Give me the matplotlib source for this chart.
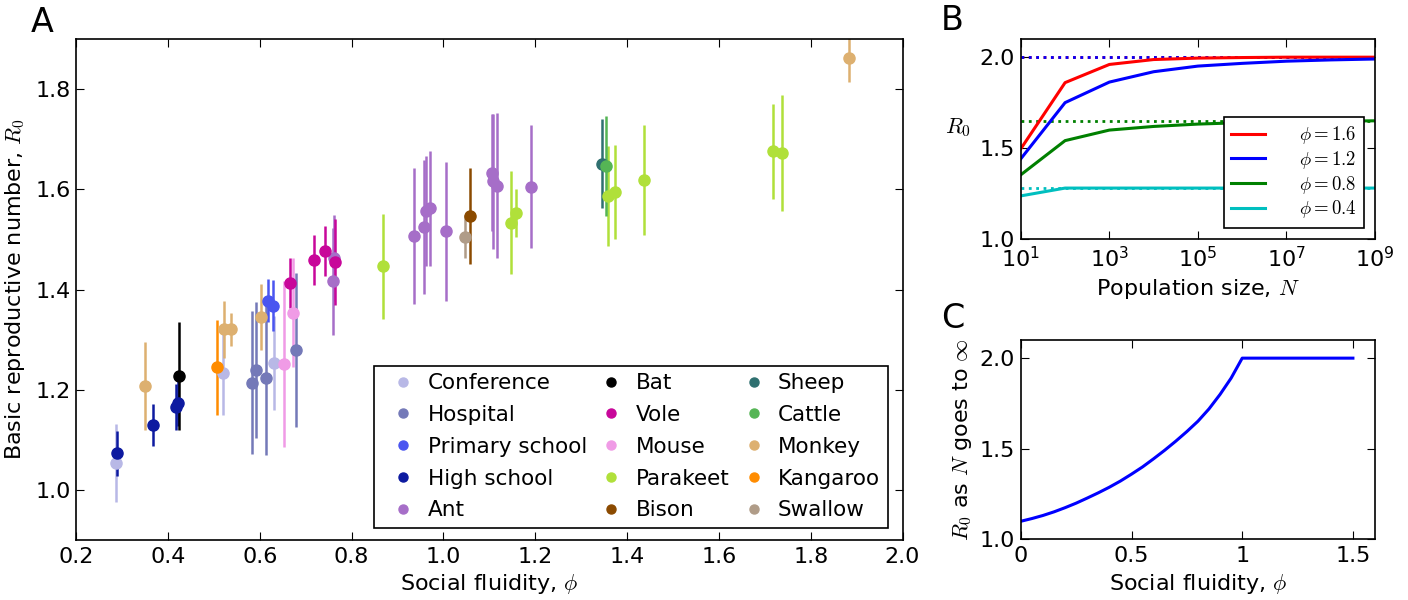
import numpy as np
import matplotlib
matplotlib.use('Agg')
import matplotlib.pyplot as plt
from matplotlib.lines import Line2D

# panel A data: one entry per point
groups = ['Conference', 'Hospital', 'Primary school', 'High school', 'Ant',
          'Bat', 'Vole', 'Mouse', 'Parakeet', 'Bison',
          'Sheep', 'Cattle', 'Monkey', 'Kangaroo', 'Swallow']
colors = ['#b8b8e6', '#7479b8', '#4a55f0', '#0d1aa0', '#a66ec8',
          '#000000', '#c8079a', '#f09be6', '#b0e03a', '#8b4a00',
          '#2f7070', '#55b555', '#ddb070', '#ff8c00', '#b09c88']

point_group = ['Conference', 'Conference', 'Conference',
               'Hospital', 'Hospital', 'Hospital', 'Hospital',
               'Primary school', 'Primary school',
               'High school', 'High school', 'High school', 'High school',
               'Ant', 'Ant', 'Ant', 'Ant', 'Ant', 'Ant', 'Ant', 'Ant', 'Ant', 'Ant', 'Ant',
               'Bat',
               'Vole', 'Vole', 'Vole', 'Vole',
               'Mouse', 'Mouse',
               'Parakeet', 'Parakeet', 'Parakeet', 'Parakeet', 'Parakeet', 'Parakeet',
               'Parakeet', 'Parakeet',
               'Bison', 'Sheep', 'Cattle',
               'Monkey', 'Monkey', 'Monkey', 'Monkey', 'Monkey',
               'Kangaroo', 'Swallow']
phi = [0.287, 0.521, 0.631,
       0.583, 0.591, 0.614, 0.680,
       0.619, 0.629,
       0.290, 0.367, 0.418, 0.421,
       0.759, 0.762, 0.936, 0.957, 0.962, 0.971, 1.006, 1.106, 1.108, 1.116, 1.190,
       0.425,
       0.666, 0.7185, 0.742, 0.765,
       0.6525, 0.6735,
       0.868, 1.148, 1.158, 1.358, 1.374, 1.437, 1.717, 1.737,
       1.058, 1.345, 1.355,
       0.350, 0.522, 0.538, 0.602, 1.883,
       0.506, 1.0475]
r0 = [1.053, 1.234, 1.254,
      1.214, 1.239, 1.224, 1.279,
      1.378, 1.368,
      1.073, 1.129, 1.166, 1.174,
      1.416, 1.463, 1.507, 1.525, 1.557, 1.562, 1.516, 1.633, 1.616, 1.607, 1.605,
      1.228,
      1.413, 1.459, 1.477, 1.455,
      1.251, 1.354,
      1.446, 1.533, 1.553, 1.587, 1.594, 1.619, 1.676, 1.672,
      1.546, 1.651, 1.647,
      1.208, 1.321, 1.321, 1.345, 1.862,
      1.245, 1.505]
r0_err = [0.078, 0.084, 0.094,
          0.143, 0.136, 0.155, 0.153,
          0.042, 0.050,
          0.045, 0.042, 0.046, 0.046,
          0.107, 0.085, 0.135, 0.133, 0.110, 0.115, 0.138, 0.117, 0.135, 0.145, 0.123,
          0.108,
          0.050, 0.050, 0.050, 0.085,
          0.165, 0.108,
          0.105, 0.103, 0.048, 0.100, 0.094, 0.110, 0.095, 0.116,
          0.096, 0.089, 0.100,
          0.088, 0.057, 0.033, 0.065, 0.048,
          0.095, 0.043]

# panel B data
pop_size = [1e1, 1e2, 1e3, 1e4, 1e5, 1e6, 1e7, 1e8, 1e9]
r0_phi16 = [1.496, 1.86, 1.96, 1.987, 1.995, 1.998, 2.0, 2.0, 2.0]
r0_phi12 = [1.441, 1.75, 1.863, 1.92, 1.951, 1.966, 1.978, 1.985, 1.99]
r0_phi08 = [1.353, 1.541, 1.599, 1.619, 1.632, 1.64, 1.645, 1.648, 1.65]
r0_phi04 = [1.237, 1.28, 1.28, 1.28, 1.28, 1.28, 1.28, 1.28, 1.28]
b_labels = ['$\\phi=1.6$', '$\\phi=1.2$', '$\\phi=0.8$', '$\\phi=0.4$']
b_limits = [2.0, 2.0, 1.65, 1.28]
b_colors = ['#ff0000', '#0000ff', '#008000', '#00bfbf']

# panel C data
phi_c = [0, 0.05, 0.1, 0.15, 0.2, 0.25, 0.3, 0.35, 0.4, 0.45, 0.5,
         0.55, 0.6, 0.65, 0.7, 0.75, 0.8, 0.85, 0.9, 0.95, 1.0, 1.5]
r0_inf = [1.10, 1.115, 1.132, 1.152, 1.175, 1.2, 1.228, 1.257, 1.288, 1.322, 1.36,
          1.4, 1.445, 1.492, 1.542, 1.595, 1.652, 1.72, 1.80, 1.89, 2.0, 2.0]

plt.rcParams['font.family'] = ['DejaVu Sans']
plt.rcParams['mathtext.fontset'] = 'cm'
plt.rcParams['font.size'] = 16
plt.rcParams['xtick.direction'] = 'in'
plt.rcParams['ytick.direction'] = 'in'
plt.rcParams['xtick.top'] = True
plt.rcParams['ytick.right'] = True
plt.rcParams['xtick.major.size'] = 6
plt.rcParams['ytick.major.size'] = 6
plt.rcParams['xtick.major.pad'] = 5
plt.rcParams['ytick.major.pad'] = 4
plt.rcParams['axes.linewidth'] = 1.2

fig = plt.figure(figsize=(14.08, 6.0), dpi=100)
axA = fig.add_axes([0.054, 0.1, 0.587, 0.835])
axB = fig.add_axes([0.725, 0.6017, 0.2516, 0.3333])
axC = fig.add_axes([0.725, 0.101, 0.2516, 0.3323])

# ---- panel A
gcol = dict(zip(groups, colors))
for g in groups:
    idx = [i for i, pg in enumerate(point_group) if pg == g]
    x = [phi[i] for i in idx]
    y = [r0[i] for i in idx]
    e = [r0_err[i] for i in idx]
    axA.errorbar(x, y, yerr=e, fmt='o', color=gcol[g], ms=8, mec=gcol[g],
                 elinewidth=1.8, capsize=0)
handles = [Line2D([], [], ls='none', marker='o', ms=6.5, color=c, mec=c) for c in colors]
legA = axA.legend(handles, groups, loc='lower right', bbox_to_anchor=(0.982, 0.024),
                  ncol=3, numpoints=1, fontsize=15.5,
                  fancybox=False, edgecolor='black', framealpha=1, borderaxespad=0,
                  handletextpad=0.1, columnspacing=0.11, labelspacing=0.55,
                  handlelength=2.05, borderpad=0.35)
legA.get_frame().set_linewidth(1.2)
axA.set_xlim(0.2, 2.0)
axA.set_ylim(0.9, 1.9)
axA.set_xticks(np.arange(0.2, 2.01, 0.2))
axA.set_yticks([1.0, 1.2, 1.4, 1.6, 1.8])
axA.set_xlabel('Social fluidity, $\\phi$', labelpad=4)
axA.set_ylabel('Basic reproductive number, $R_0$', labelpad=6)
fig.text(0.03, 0.962, 'A', fontsize=24, ha='center', va='center')

# ---- panel B
for lim, c in zip(b_limits, b_colors):
    axB.plot(pop_size, [lim] * len(pop_size), ls=':', color=c, lw=2)
for ys, lab, c in zip([r0_phi16, r0_phi12, r0_phi08, r0_phi04], b_labels, b_colors):
    axB.plot(pop_size, ys, color=c, lw=2.2, label=lab)
axB.set_xscale('log')
axB.set_xlim(1e1, 1e9)
axB.set_ylim(1.0, 2.1)
axB.set_xticks([1e1, 1e3, 1e5, 1e7, 1e9])
axB.minorticks_off()
axB.set_yticks([1.0, 1.5, 2.0])
axB.set_xlabel('Population size, $N$', labelpad=4)
axB.set_ylabel('$R_0$', rotation=0, labelpad=16)
legB = axB.legend(loc='lower right', fontsize=13.5, fancybox=False, edgecolor='black',
                  framealpha=1, borderaxespad=0.6, handlelength=1.8, handletextpad=1.8,
                  labelspacing=0.14, borderpad=0.4)
legB.get_frame().set_linewidth(1.2)
fig.text(0.676, 0.965, 'B', fontsize=24, ha='center', va='center')

# ---- panel C
axC.plot(phi_c, r0_inf, color='#0000ff', lw=2.2)
axC.set_xlim(0, 1.6)
axC.set_ylim(1.0, 2.1)
axC.set_xticks([0, 0.5, 1, 1.5])
axC.set_xticklabels(['0', '0.5', '1', '1.5'])
axC.set_yticks([1.0, 1.5, 2.0])
axC.set_xlabel('Social fluidity, $\\phi$', labelpad=4)
axC.set_ylabel('$R_0$ as $N$ goes to $\\infty$')
fig.text(0.677, 0.47, 'C', fontsize=24, ha='center', va='center')

fig.savefig('out.png', dpi=100, facecolor='white')
